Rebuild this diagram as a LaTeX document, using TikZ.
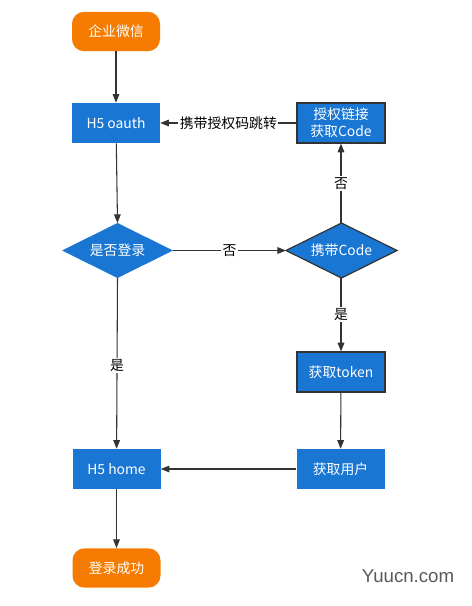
\documentclass[tikz,border=0pt]{standalone}
\usepackage{fontspec}
\setmainfont{Noto Sans CJK SC}
\newfontfamily\wmfont{Liberation Sans}
\usetikzlibrary{arrows.meta}
\definecolor{boxblue}{HTML}{1976D2}
\definecolor{termorange}{HTML}{F57C00}
\definecolor{linegray}{HTML}{333333}
\begin{document}
\begin{tikzpicture}[x=0.75pt,y=-0.75pt,
  every node/.style={font=\fontsize{10.4pt}{12.8pt}\selectfont},
  term/.style={fill=termorange,text=white,rounded corners=9pt,minimum width=66pt,minimum height=29.5pt,inner sep=0pt},
  proc/.style={fill=boxblue,text=white,minimum width=66pt,minimum height=30pt,inner sep=0pt,align=center},
  procb/.style={proc,draw=linegray,line width=0.9pt},
  dectext/.style={text=white,inner sep=0pt},
  conn/.style={draw=linegray,line width=0.8pt,-{Triangle[length=6.5pt,width=5pt]}},
  lbl/.style={fill=white,text=black,inner sep=1pt}
]
\useasboundingbox (0,0) rectangle (471,606);
\node[term] (start) at (116,31.5) {企业微信};
\node[proc] (oauth) at (116,123) {H5 oauth};
\node[procb] (auth) at (341,123) {授权链接\\获取Code};
\path[fill=boxblue] (62,250.5) -- (117.5,223) -- (173,250.5) -- (117.5,278) -- cycle;
\node[dectext] (login) at (117.5,250.5) {是否登录};
\path[fill=boxblue,draw=linegray,line width=0.9pt] (286,250.5) -- (341.5,223) -- (397,250.5) -- (341.5,278) -- cycle;
\node[dectext] (code) at (341.5,250.5) {携带Code};
\coordinate (loginR) at (173,250.5);
\coordinate (loginB) at (117.5,278);
\coordinate (loginT) at (117.5,223);
\coordinate (codeL) at (286,250.5);
\coordinate (codeT) at (341,223);
\coordinate (codeB) at (341,278);
\node[procb] (token) at (341,372) {获取token};
\node[proc] (user) at (340.5,469) {获取用户};
\node[proc] (home) at (116.5,469) {H5 home};
\node[term] (done) at (116.5,568) {登录成功};
\node[text=black!65,font=\wmfont\fontsize{14pt}{16pt}\selectfont] (wm) at (408,576) {Yuucn.com};

\draw[conn] (start) -- (oauth);
\draw[conn] (oauth) -- (loginT);
\draw[conn] (loginR) -- node[lbl]{否} (codeL);
\draw[conn] (codeT) -- node[lbl]{否} (auth);
\draw[conn] (auth) -- node[lbl]{携带授权码跳转} (oauth);
\draw[conn] (codeB) -- node[lbl,pos=0.5]{是} (token);
\draw[conn] (token) -- (user);
\draw[conn] (user) -- (home);
\draw[conn] (loginB) -- node[lbl,pos=0.51]{是} (home);
\draw[conn] (home) -- (done);
\end{tikzpicture}
\end{document}
